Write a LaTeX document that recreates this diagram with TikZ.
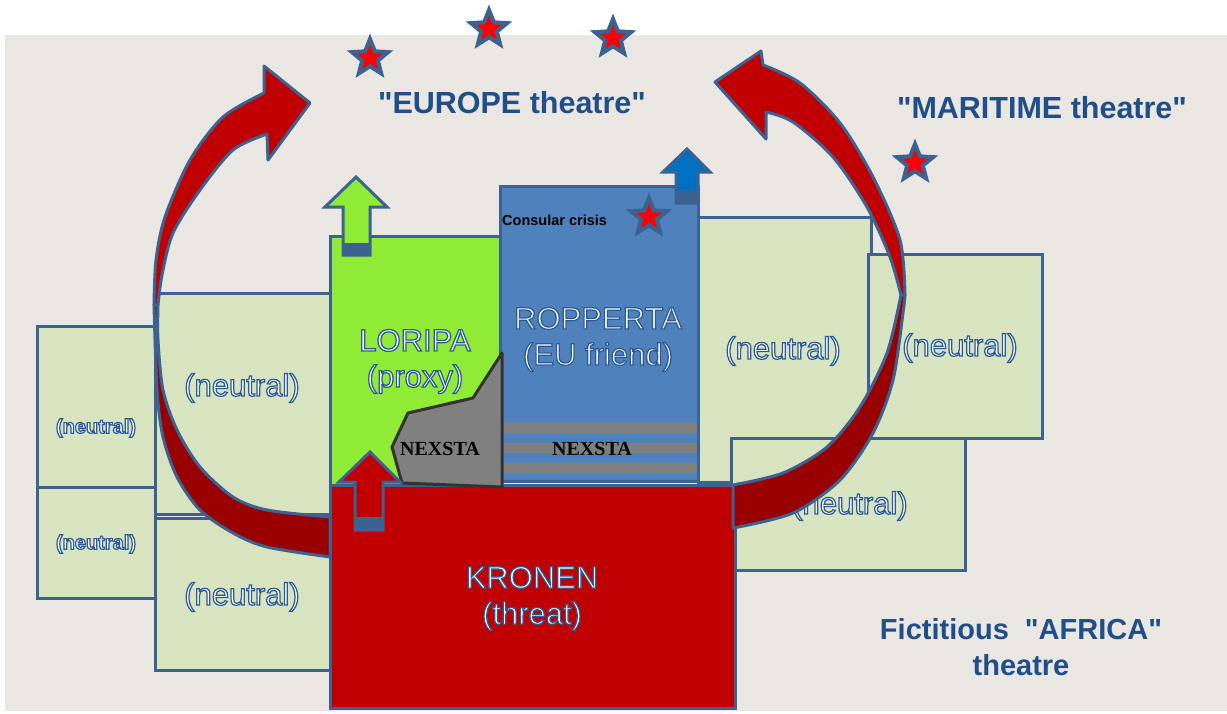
\documentclass[tikz,border=0pt]{standalone}
\usepackage{fontspec}
\setmainfont{Liberation Sans}
\newfontfamily\nexfont{Liberation Serif}
\newfontfamily\ofont{Liberation Sans}[FakeBold=4, BoldFeatures={FakeBold=6}]
\usetikzlibrary{shapes.geometric}
\definecolor{bg}{HTML}{EAE7E2}
\definecolor{ob}{HTML}{3B6291}
\definecolor{tb}{HTML}{2A5A98}
\definecolor{neu}{HTML}{D8E4BF}
\definecolor{lgreen}{HTML}{8FEB35}
\definecolor{lblue}{HTML}{4F81BD}
\definecolor{kred}{HTML}{C00000}
\definecolor{dred}{HTML}{990000}
\definecolor{abblue}{HTML}{0070C0}
\definecolor{title}{HTML}{1F4E89}
\definecolor{nexgray}{HTML}{808080}
\newcommand\qmark{\XeTeXglyph\XeTeXglyphindex "quotedbl"\relax}
\newcommand\outl[1]{\special{pdf:bcolor [1 1 1] [0.165 0.353 0.596]}#1\special{pdf:ecolor}}
\begin{document}
\begin{tikzpicture}[x=1pt,y=-1pt,
  box/.style={draw=ob, line width=3pt, inner sep=0pt, outer sep=0pt},
  nbox/.style={box, fill=neu},
  lbl/.style={text=white, font=\ofont\fontsize{31}{36}\selectfont, align=center, inner sep=0pt},
  slbl/.style={text=white, font=\ofont\bfseries\fontsize{20}{24}\selectfont, align=center, inner sep=0pt},
  ttl/.style={text=title, font=\bfseries\fontsize{30.5}{36}\selectfont, align=center, inner sep=0pt},
  nex/.style={text=black, font=\nexfont\bfseries\fontsize{20}{22}\selectfont, inner sep=0pt},
  starnode/.style={star, star points=5, star point ratio=2.3, minimum size=38pt, inner sep=0pt, fill=red, draw=ob, line width=4pt},
  upper/.style={fill=kred, draw=ob, line width=3pt, line join=round},
  lower/.style={fill=dred, draw=ob, line width=3pt, line join=round},
  uparr/.style={draw=ob, line width=3pt, line join=miter}
]
\useasboundingbox (0,0) rectangle (1227,713);
\fill[white] (0,0) rectangle (1227,713);
\fill[bg] (5,35) rectangle (1227,711);

% neutral boxes
\node[nbox, minimum width=118pt, minimum height=161pt] (nL1) at (96,406.5) {};
\node[nbox, minimum width=118pt, minimum height=111pt] (nL2) at (96,542.5) {};
\node[nbox, minimum width=175pt, minimum height=221pt] (nB1) at (242.5,403.5) {};
\node[nbox, minimum width=175pt, minimum height=152pt] (nB2) at (242.5,594) {};
\node[nbox, minimum width=173pt, minimum height=265pt] (nR1) at (784.5,349.5) {};
\node[nbox, minimum width=174pt, minimum height=184pt] (nR2) at (955,346) {};
\node[nbox, minimum width=234pt, minimum height=132pt] (nR3) at (848,504) {};

% main boxes
\node[box, fill=lgreen, minimum width=170pt, minimum height=249pt] (lor) at (415,360.5) {};
\node[box, fill=lblue, minimum width=198pt, minimum height=295pt] (rop) at (599,333.5) {};
\node[box, fill=kred, minimum width=405pt, minimum height=223pt] (kro) at (532.5,596.5) {};

% NEXSTA stripes in ROPPERTA
\fill[nexgray] (503,423) rectangle (697,433);
\fill[nexgray] (503,443) rectangle (697,453);
\fill[nexgray] (503,463) rectangle (697,473);

% NEXSTA polygon
\filldraw[fill=nexgray, draw=black!80, line width=3pt, line join=round]
  (502,353) -- (473,398) -- (408,413) -- (392,447) -- (402,483) -- (502,487) -- cycle;

% texts in boxes
\node[slbl] (tL1) at (96,428) {\outl{(neutral)}};
\node[slbl] (tL2) at (96,544) {\outl{(neutral)}};
\node[lbl] (tB1) at (242,388) {\outl{(neutral)}};
\node[lbl] (tB2) at (242,597) {\outl{(neutral)}};
\node[lbl] (tR1) at (783,351) {\outl{(neutral)}};
\node[lbl] (tR2) at (960,348) {\outl{(neutral)}};
\node[lbl] (tR3) at (850,506) {\outl{(neutral)}};
\node[lbl] (tlor) at (415,361.5) {\outl{LORIPA}\\\outl{(proxy)}};
\node[lbl] (trop) at (598,339.5) {\outl{ROPPERTA}\\\outl{(EU friend)}};
\node[lbl] (tkro) at (532,598.5) {\outl{KRONEN}\\\outl{(threat)}};
\node[text=black, font=\bfseries\fontsize{14.5}{16}\selectfont, anchor=west, inner sep=0pt] (cc) at (502,220) {Consular crisis};
\node[nex] (nx1) at (440,449) {NEXSTA};
\node[nex] (nx2) at (592,449) {NEXSTA};

% up arrows
\filldraw[uparr, fill=lgreen] (343,255) -- (343,207) -- (325,207) -- (356,177) -- (387,207) -- (370,207) -- (370,255) -- cycle;
\fill[ob] (343,243) rectangle (370,255);
\filldraw[uparr, fill=abblue] (676,203) -- (676,172) -- (663,172) -- (687,149) -- (710,172) -- (698,172) -- (698,203) -- cycle;
\fill[ob] (676,191) rectangle (698,203);
\filldraw[uparr, fill=kred] (355,530) -- (355,482) -- (339,482) -- (370,452) -- (400,482) -- (383,482) -- (383,530) -- cycle;
\fill[ob] (355,517) rectangle (383,530);

% left curved arrow
\filldraw[upper] (154,305) -- plot[smooth] coordinates {(154,305) (156,260) (165,217) (190,160) (223,117) (264,93)}
  -- (264,66) -- (310,103) -- (268,160) -- (267,134)
  -- plot[smooth] coordinates {(267,134) (233,150) (200,190) (173,233) (162,275) (158,305)} -- cycle;
\filldraw[lower] (154,305) -- plot[smooth] coordinates {(154,305) (157,390) (163,437) (177,477) (200,510) (233,533) (267,547) (330,557)}
  -- (330,517)
  -- plot[smooth] coordinates {(330,517) (267,510) (233,497) (200,467) (177,430) (163,390) (158,340) (158,305)} -- cycle;

% right curved arrow
\filldraw[upper] (905,295) -- plot[smooth] coordinates {(905,295) (900,240) (873,177) (840,123) (800,83) (763,65)}
  -- (761,51) -- (715,82) -- (766,139) -- (766,112)
  -- plot[smooth] coordinates {(766,112) (793,122) (833,157) (867,207) (890,257) (901,295)} -- cycle;
\filldraw[lower] (905,295) -- plot[smooth] coordinates {(905,295) (903,313) (893,380) (873,433) (840,480) (793,513) (733,528)}
  -- (733,485)
  -- plot[smooth] coordinates {(733,485) (783,473) (827,447) (860,407) (887,353) (901,295)} -- cycle;

% stars
\node[starnode] (s1) at (370,58) {};
\node[starnode] (s2) at (489,29) {};
\node[starnode] (s3) at (613,38) {};
\node[starnode] (s4) at (915,163) {};
\node[starnode] (s5) at (649,217) {};

% theatre titles
\node[ttl] (eu) at (512,103) {\qmark EUROPE theatre\qmark};
\node[ttl] (ma) at (1042,108) {\qmark MARITIME theatre\qmark};
\node[ttl, font=\bfseries\fontsize{29}{36}\selectfont] (af) at (1021,647) {Fictitious\ \ \qmark AFRICA\qmark\\theatre};
\end{tikzpicture}
\end{document}
